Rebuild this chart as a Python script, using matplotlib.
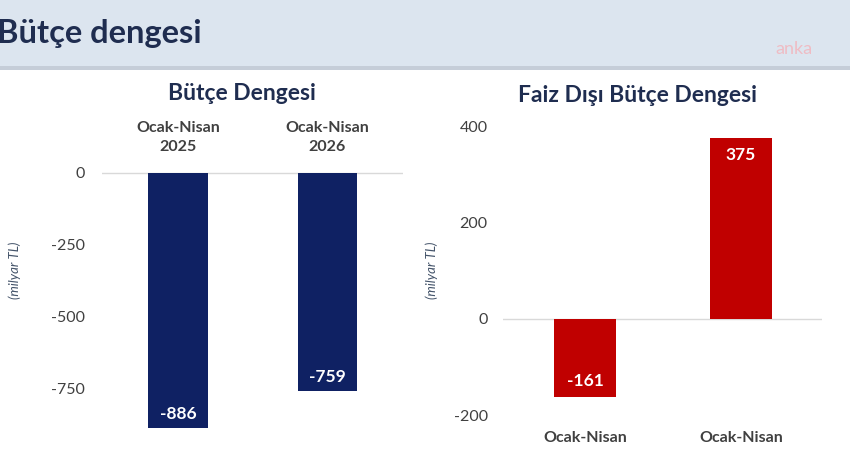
import matplotlib
matplotlib.use("Agg")
import matplotlib.pyplot as plt
from matplotlib.patches import Rectangle

plt.rcParams['font.family'] = ['Lato', 'DejaVu Sans']

# data
donemler = ["Ocak-Nisan\n2025", "Ocak-Nisan\n2026"]
donemler_alt = ["Ocak-Nisan", "Ocak-Nisan"]
butce_dengesi = [-886, -759]
faiz_disi_denge = [-161, 375]
sol_ticks = [0, -250, -500, -750]
sag_ticks = [400, 200, 0, -200]

W, H = 850, 450
NAVY = '#0f2163'
RED = '#c00000'
TXT = '#1f2d50'
TICK = '#404040'


def px(x0, y0, x1, y1):
    """pixel box (top-left origin) -> figure fraction rect"""
    return [x0 / W, 1 - y1 / H, (x1 - x0) / W, (y1 - y0) / H]


fig = plt.figure(figsize=(8.5, 4.5), dpi=100)
fig.patch.set_facecolor('white')

# header band
fig.patches.append(Rectangle((0, 1 - 66 / H), 1, 66 / H, transform=fig.transFigure,
                             facecolor='#dce5ef', edgecolor='none', zorder=0))
fig.patches.append(Rectangle((0, 1 - 70 / H), 1, 4 / H, transform=fig.transFigure,
                             facecolor='#c5cdd8', edgecolor='none', zorder=0))
fig.text(-3 / W, 1 - 43 / H, "Bütçe dengesi", fontsize=23.5, fontweight='bold',
         color=TXT, ha='left', va='baseline')
fig.text(794 / W, 1 - 49 / H, "anka", fontsize=13, color='#efbcc4',
         ha='center', va='center')


def style(ax):
    for s in ax.spines.values():
        s.set_visible(False)
    ax.axhline(0, color='#d9d9d9', lw=1, zorder=0)
    ax.tick_params(length=0, labelsize=11.5, labelcolor=TICK)
    ax.set_facecolor('none')


# left chart
ax1 = fig.add_axes(px(102, 166.9, 403, 437.7))
b1 = ax1.bar(range(len(butce_dengesi)), butce_dengesi, width=0.40, color=NAVY, zorder=2)
ax1.set_xlim(-0.508, 1.505)
ax1.set_ylim(-920, 20)
ax1.set_yticks(sol_ticks)
ax1.set_yticklabels([str(t) for t in sol_ticks])
ax1.xaxis.tick_top()
ax1.set_xticks(range(len(donemler)))
ax1.set_xticklabels(donemler, fontweight='bold', fontsize=13, color=TXT, linespacing=1.45)
style(ax1)
ax1.tick_params(axis='y', pad=12)
ax1.tick_params(axis='x', pad=9)
for r, v in zip(b1, butce_dengesi):
    ax1.annotate(str(v), (r.get_x() + r.get_width() / 2, v), xytext=(0, 10),
                 textcoords='offset points', ha='center', va='center',
                 color='white', fontweight='bold', fontsize=12.5)
fig.text(242 / W, 1 - 94 / H, "Bütçe Dengesi", fontsize=16.5, fontweight='bold',
         color=TXT, ha='center', va='center')
fig.text(15 / W, 1 - 270 / H, "(milyar TL)", fontsize=9.5, style='italic',
         color='#44546a', rotation=90, ha='center', va='center')

# right chart
ax2 = fig.add_axes(px(503, 116.8, 821.7, 422.5))
b2 = ax2.bar(range(len(faiz_disi_denge)), faiz_disi_denge, width=0.40, color=RED, zorder=2)
ax2.set_xlim(-0.526, 1.517)
ax2.set_ylim(-215, 420)
ax2.set_yticks(sag_ticks)
ax2.set_yticklabels([str(t) for t in sag_ticks])
ax2.set_xticks(range(len(donemler_alt)))
ax2.set_xticklabels(donemler_alt, fontweight='bold', fontsize=13, color=TXT)
style(ax2)
ax2.tick_params(axis='y', pad=11)
ax2.tick_params(axis='x', pad=6)
for r, v in zip(b2, faiz_disi_denge):
    off = -12 if v > 0 else 11
    ax2.annotate(str(v), (r.get_x() + r.get_width() / 2, v), xytext=(0, off),
                 textcoords='offset points', ha='center', va='center',
                 color='white', fontweight='bold', fontsize=12.5)
fig.text(637 / W, 1 - 96 / H, "Faiz Dışı Bütçe Dengesi", fontsize=16.5, fontweight='bold',
         color=TXT, ha='center', va='center')
fig.text(432 / W, 1 - 270 / H, "(milyar TL)", fontsize=9.5, style='italic',
         color='#44546a', rotation=90, ha='center', va='center')

fig.savefig('out.png', dpi=100)
